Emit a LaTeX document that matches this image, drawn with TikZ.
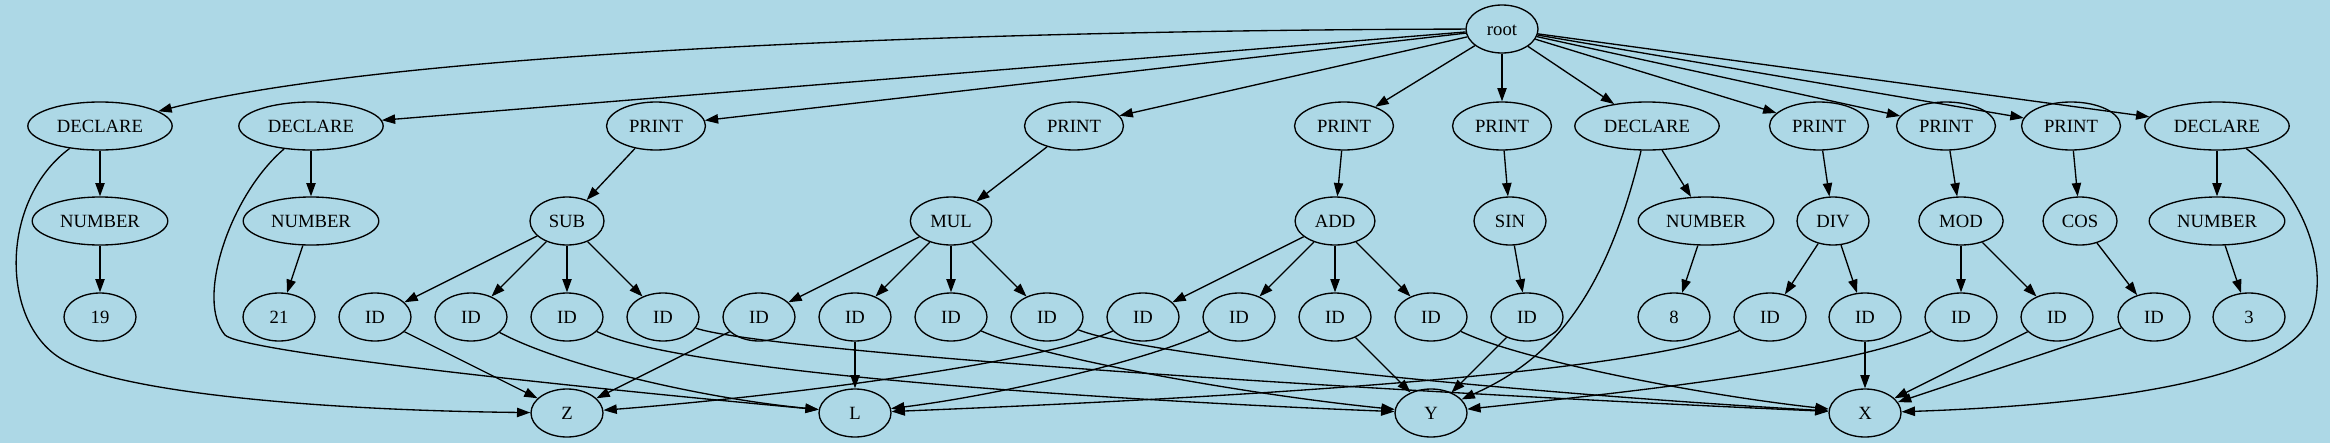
\documentclass[tikz,border=0pt]{standalone}
\usepackage{fontspec}
\setmainfont{Liberation Serif}
\usetikzlibrary{arrows.meta,shapes.geometric}
\definecolor{bgblue}{HTML}{ADD8E6}

\begin{document}
\begin{tikzpicture}[
		x=0.75pt, y=-0.75pt,
		ast/.style={draw,ellipse,line width=1pt,minimum width=54pt,minimum height=36pt,
			inner xsep=6pt,inner ysep=2pt,text height=9.5pt,text depth=0pt,
			font=\fontsize{14}{16}\selectfont},
		> = {Triangle[length=10pt,width=7pt]},
		every path/.append style={line width=1pt}
		]
		\path[use as bounding box,fill=bgblue] (0,0) rectangle (2330,443);
		\node[ast] (root) at (1502,29) {root};
		% statements
		\node[ast] (dec1) at (100,126) {DECLARE};
		\node[ast] (dec2) at (311,126) {DECLARE};
		\node[ast] (prt1) at (656,126) {PRINT};
		\node[ast] (prt2) at (1074,126) {PRINT};
		\node[ast] (prt3) at (1344,126) {PRINT};
		\node[ast] (prt4) at (1502,126) {PRINT};
		\node[ast] (dec3) at (1647,126) {DECLARE};
		\node[ast] (prt5) at (1819,126) {PRINT};
		\node[ast] (prt6) at (1946,126) {PRINT};
		\node[ast] (prt7) at (2071,126) {PRINT};
		\node[ast] (dec4) at (2217,126) {DECLARE};
		% expressions
		\node[ast] (num1) at (100,221) {NUMBER};
		\node[ast] (num2) at (311,221) {NUMBER};
		\node[ast] (sub) at (567,221) {SUB};
		\node[ast] (mul) at (951,221) {MUL};
		\node[ast] (add) at (1335,221) {ADD};
		\node[ast] (sin) at (1510,221) {SIN};
		\node[ast] (num3) at (1706,221) {NUMBER};
		\node[ast] (div) at (1833,221) {DIV};
		\node[ast] (mod) at (1961,221) {MOD};
		\node[ast] (cos) at (2080,221) {COS};
		\node[ast] (num4) at (2217,221) {NUMBER};
		% leaves
		\node[ast] (v19) at (100,317) {19};
		\node[ast] (v21) at (279,317) {21};
		\node[ast] (ida) at (375,317) {ID};
		\node[ast] (idb) at (471,317) {ID};
		\node[ast] (idc) at (567,317) {ID};
		\node[ast] (idd) at (663,317) {ID};
		\node[ast] (ide) at (759,317) {ID};
		\node[ast] (idf) at (855,317) {ID};
		\node[ast] (idg) at (951,317) {ID};
		\node[ast] (idh) at (1047,317) {ID};
		\node[ast] (idi) at (1143,317) {ID};
		\node[ast] (idj) at (1239,317) {ID};
		\node[ast] (idk) at (1335,317) {ID};
		\node[ast] (idl) at (1431,317) {ID};
		\node[ast] (idm) at (1527,317) {ID};
		\node[ast] (v8) at (1674,317) {8};
		\node[ast] (idn) at (1770,317) {ID};
		\node[ast] (ido) at (1865,317) {ID};
		\node[ast] (idp) at (1961,317) {ID};
		\node[ast] (idq) at (2057,317) {ID};
		\node[ast] (idr) at (2154,317) {ID};
		\node[ast] (v3) at (2249,317) {3};
		% variables
		\node[ast] (varz) at (567,413) {Z};
		\node[ast] (varl) at (855,413) {L};
		\node[ast] (vary) at (1431,413) {Y};
		\node[ast] (varx) at (1865,413) {X};
		
		% tree edges
		\draw[->] (root) .. controls (1000,30) and (400,50) .. (dec1);
		\path[->] (root) edge (dec2) edge (prt1) edge (prt2) edge (prt3) edge (prt4)
		edge (dec3) edge (prt5) edge (prt6) edge (prt7) edge (dec4);
		\path[->] (dec1) edge (num1) (num1) edge (v19)
		(dec2) edge (num2) (num2) edge (v21)
		(prt1) edge (sub) (sub) edge (ida) edge (idb) edge (idc) edge (idd)
		(prt2) edge (mul) (mul) edge (ide) edge (idf) edge (idg) edge (idh)
		(prt3) edge (add) (add) edge (idi) edge (idj) edge (idk) edge (idl)
		(prt4) edge (sin) (sin) edge (idm)
		(dec3) edge (num3) (num3) edge (v8)
		(prt5) edge (div) (div) edge (idn) edge (ido)
		(prt6) edge (mod) (mod) edge (idp) edge (idq)
		(prt7) edge (cos) (cos) edge (idr)
		(dec4) edge (num4) (num4) edge (v3);
		
		% links to the variables
		\draw[->] (dec1) .. controls (0,200) and (0,320) .. (60,358) .. controls (110,390) and (300,410) .. (varz);
		\draw[->] (dec2) .. controls (230,195) and (195,300) .. (225,335) .. controls (240,350) and (500,380) .. (varl);
		\draw[->] (dec3) .. controls (1605,300) and (1550,360) .. (vary);
		\draw[->] (dec4) .. controls (2300,190) and (2330,260) .. (2312,315) .. controls (2290,380) and (2100,405) .. (varx);
		\path[->] (ida) edge (varz) (ide) edge (varz)
		(idf) edge (varl)
		(idk) edge (vary) (idm) edge (vary)
		(ido) edge (varx) (idq) edge (varx) (idr) edge (varx);
		\draw[->] (idb) .. controls (560,365) and (700,398) .. (varl);
		\draw[->] (idc) .. controls (680,372) and (1100,400) .. (vary);
		\draw[->] (idd) .. controls (760,350) and (1300,388) .. (varx);
		\draw[->] (idg) .. controls (1040,358) and (1250,395) .. (vary);
		\draw[->] (idh) .. controls (1140,355) and (1500,392) .. (varx);
		\draw[->] (idi) .. controls (1050,360) and (800,395) .. (varz);
		\draw[->] (idj) .. controls (1150,360) and (1000,395) .. (varl);
		\draw[->] (idl) .. controls (1520,360) and (1700,395) .. (varx);
		\draw[->] (idn) .. controls (1650,370) and (1300,395) .. (varl);
		\draw[->] (idp) .. controls (1850,370) and (1600,395) .. (vary);
	\end{tikzpicture}
\end{document}
